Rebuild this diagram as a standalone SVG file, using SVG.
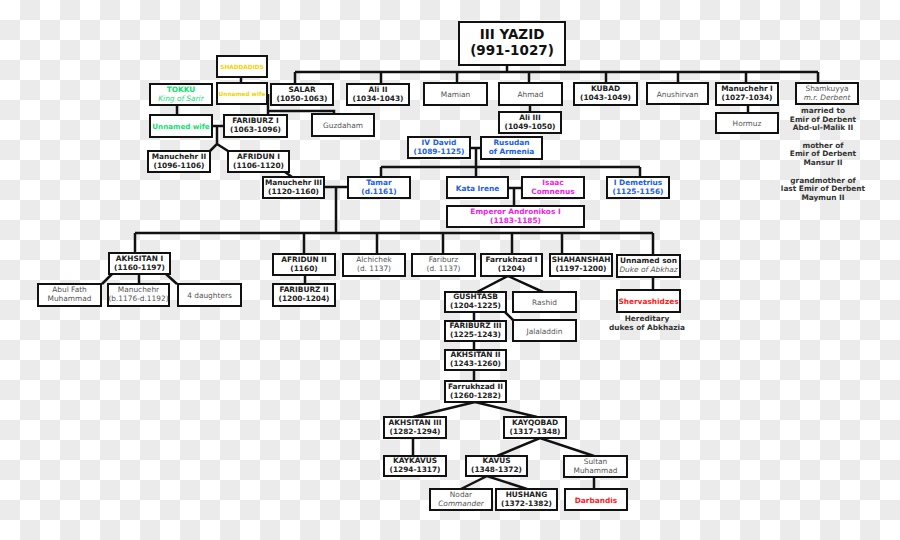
<svg xmlns="http://www.w3.org/2000/svg" width="900" height="540" viewBox="0 0 900 540">
<defs>
<pattern id="chk" x="0" y="0" width="40" height="40" patternUnits="userSpaceOnUse">
<rect x="0" y="0" width="40" height="40" fill="#ffffff"/>
<rect x="20" y="0" width="20" height="20" fill="#ebebeb"/>
<rect x="0" y="20" width="20" height="20" fill="#ebebeb"/>
</pattern>
</defs>
<style>
.n rect{fill:#fff;stroke:#111;stroke-width:2}
text{font-family:"DejaVu Sans","Liberation Sans",sans-serif;font-size:7.4px;text-anchor:middle}
.b{font-weight:bold;fill:#222}
.r{fill:#555}
.i{font-style:italic;fill:#555}
.y{fill:#f5cf00;font-weight:bold;font-size:5.8px}
.g{fill:#10e070;font-weight:bold}
.gi{fill:#10e070;font-style:italic}
.bl{fill:#2060e8;font-weight:bold}
.m{fill:#f020e8;font-weight:bold}
.rd{fill:#ff1a1a;font-weight:bold}
.note{font-weight:bold;fill:#333;font-size:7.4px}
#conn path{fill:none;stroke:#111;stroke-width:2.5}
</style>
<rect x="0" y="0" width="900" height="540" fill="url(#chk)"/>
<g id="conn">
<path d="M507,65V72M295,72H818M295,72V84M381,72V84M457,72V83M529,72V83M606,72V83M678,72V83M746,72V83M818,72V83"/>
<path d="M530,105V112M748,105V113M241,77V83M177,105V115"/>
<path d="M268,94V115M268,111H334V114"/>
<path d="M212,126H224M217,126V144L210,151M217,144L228,151"/>
<path d="M285,172L292,177"/>
<path d="M324,187H348M336,187V233M135,233H653M135,233V253M304,233V254M377,233V254M443,233V254M512,233V254M562,233V254M653,233V255"/>
<path d="M470,148H481M476,148V177M381,167H640M381,167V177M640,167V177"/>
<path d="M508,188H522M514,188V206"/>
<path d="M112,274L102,284M139,274V284M166,274L177,284"/>
<path d="M305,275V284M653,277V290"/>
<path d="M477,292L508,276L543,292M504,311L514,321"/>
<path d="M474,312V321M474,341V350M474,370V381"/>
<path d="M413,417L475,402L537,417M413,438V456"/>
<path d="M497,456L540,438L594,456M461,489L487,476L527,489M594,477V489"/>
</g>

<g id="yazid" class="n"><rect x="459" y="22" width="106" height="43"/><text class="b" x="512" y="39" style="font-size:13.5px;fill:#111">III YAZID</text><text class="b" x="512" y="55" style="font-size:13.5px;fill:#111">(991-1027)</text></g>
<g id="salar" class="n"><rect x="271" y="84" width="62" height="21"/><text class="b" x="302" y="91.5">SALAR</text><text class="b" x="302" y="100.5">(1050-1063)</text></g>
<g id="ali2" class="n"><rect x="347" y="84" width="62" height="21"/><text class="b" x="378" y="91.5">Ali II</text><text class="b" x="378" y="100.5">(1034-1043)</text></g>
<g id="mamian" class="n"><rect x="424" y="83" width="63" height="22"/><text class="r" x="455.5" y="97">Mamian</text></g>
<g id="ahmad" class="n"><rect x="499" y="83" width="63" height="22"/><text class="r" x="530.5" y="97">Ahmad</text></g>
<g id="kubad" class="n"><rect x="574" y="83" width="63" height="22"/><text class="b" x="605.5" y="91">KUBAD</text><text class="b" x="605.5" y="100">(1043-1049)</text></g>
<g id="anushirvan" class="n"><rect x="647" y="83" width="61" height="21"/><text class="r" x="677.5" y="96.5">Anushirvan</text></g>
<g id="manuchehr1" class="n"><rect x="716" y="83" width="62" height="22"/><text class="b" x="747" y="91">Manuchehr I</text><text class="b" x="747" y="100">(1027-1034)</text></g>
<g id="shamkuyya" class="n"><rect x="796" y="83" width="62" height="21"/><text class="r" x="827" y="90.5">Shamkuyya</text><text class="i" x="827" y="99.5">m.r. Derbent</text></g>
<g id="ali3" class="n"><rect x="499" y="112" width="62" height="21"/><text class="b" x="530" y="119.5">Ali III</text><text class="b" x="530" y="128.5">(1049-1050)</text></g>
<g id="hormuz" class="n"><rect x="716" y="113" width="62" height="20"/><text class="r" x="747" y="126">Hormuz</text></g>
<g id="shamkuyya-notes">
<text class="note" x="823" y="113">married to</text><text class="note" x="823" y="121.5">Emir of Derbent</text><text class="note" x="823" y="130">Abd-ul-Malik II</text>
<text class="note" x="823" y="147.5">mother of</text><text class="note" x="823" y="156">Emir of Derbent</text><text class="note" x="823" y="164.5">Mansur II</text>
<text class="note" x="823" y="182.5">grandmother of</text><text class="note" x="823" y="191">last Emir of Derbent</text><text class="note" x="823" y="199.5">Maymun II</text>
</g>
<g id="shaddadids" class="n"><rect x="217" y="56" width="50" height="21"/><text class="y" x="242" y="68.5">SHADDADIDS</text></g>
<g id="unnamedwife-y" class="n"><rect x="217" y="83" width="50" height="21"/><text class="y" x="242" y="95.5">Unnamed wife</text></g>
<g id="tokku" class="n"><rect x="150" y="84" width="62" height="21"/><text class="g" x="181" y="91.5">TOKKU</text><text class="gi" x="181" y="100.5">King of Sarir</text></g>
<g id="unnamedwife-g" class="n"><rect x="150" y="115" width="62" height="22"/><text class="g" x="181" y="128.5" style="font-size:7.1px">Unnamed wife</text></g>
<g id="fariburz1" class="n"><rect x="224" y="115" width="63" height="22"/><text class="b" x="255.5" y="123">FARIBURZ I</text><text class="b" x="255.5" y="132">(1063-1096)</text></g>
<g id="guzdaham" class="n"><rect x="312" y="114" width="62" height="22"/><text class="r" x="343" y="128">Guzdaham</text></g>
<g id="manuchehr2" class="n"><rect x="148" y="151" width="62" height="21"/><text class="b" x="179" y="158.5">Manuchehr II</text><text class="b" x="179" y="167.5">(1096-1106)</text></g>
<g id="afridun1" class="n"><rect x="228" y="151" width="61" height="21"/><text class="b" x="258.5" y="158.5">AFRIDUN I</text><text class="b" x="258.5" y="167.5">(1106-1120)</text></g>
<g id="manuchehr3" class="n"><rect x="263" y="177" width="61" height="21"/><text class="b" x="293.5" y="184.5">Manuchehr III</text><text class="b" x="293.5" y="193.5">(1120-1160)</text></g>
<g id="tamar" class="n"><rect x="348" y="177" width="62" height="21"/><text class="bl" x="379" y="184.5">Tamar</text><text class="bl" x="379" y="193.5">(d.1161)</text></g>
<g id="david4" class="n"><rect x="408" y="137" width="62" height="21"/><text class="bl" x="439" y="144.5">IV David</text><text class="bl" x="439" y="153.5">(1089-1125)</text></g>
<g id="rusudan" class="n"><rect x="481" y="137" width="61" height="22"/><text class="bl" x="511.5" y="145">Rusudan</text><text class="bl" x="511.5" y="154">of Armenia</text></g>
<g id="kata-irene" class="n"><rect x="447" y="177" width="61" height="21"/><text class="bl" x="477.5" y="190.5">Kata Irene</text></g>
<g id="isaac" class="n"><rect x="522" y="177" width="62" height="21"/><text class="m" x="553" y="184.5">Isaac</text><text class="m" x="553" y="193.5">Comnenus</text></g>
<g id="andronikos" class="n"><rect x="447" y="206" width="137" height="21"/><text class="m" x="515.5" y="213.5">Emperor Andronikos I</text><text class="m" x="515.5" y="222.5">(1183-1185)</text></g>
<g id="demetrius" class="n"><rect x="607" y="177" width="62" height="21"/><text class="bl" x="638" y="184.5">I Demetrius</text><text class="bl" x="638" y="193.5">(1125-1156)</text></g>
<g id="akhsitan1" class="n"><rect x="109" y="253" width="61" height="21"/><text class="b" x="139.5" y="260.5">AKHSITAN I</text><text class="b" x="139.5" y="269.5">(1160-1197)</text></g>
<g id="afridun2" class="n"><rect x="273" y="254" width="62" height="21"/><text class="b" x="304" y="261.5">AFRIDUN II</text><text class="b" x="304" y="270.5">(1160)</text></g>
<g id="alchichek" class="n"><rect x="343" y="254" width="62" height="22"/><text class="r" x="374" y="262">Alchichek</text><text class="r" x="374" y="271">(d. 1137)</text></g>
<g id="fariburz" class="n"><rect x="412" y="254" width="63" height="22"/><text class="r" x="443.5" y="262">Fariburz</text><text class="r" x="443.5" y="271">(d. 1137)</text></g>
<g id="farrukhzad1" class="n"><rect x="481" y="254" width="61" height="22"/><text class="b" x="511.5" y="262">Farrukhzad I</text><text class="b" x="511.5" y="271">(1204)</text></g>
<g id="shahanshah" class="n"><rect x="550" y="254" width="62" height="22"/><text class="b" x="581" y="262">SHAHANSHAH</text><text class="b" x="581" y="271">(1197-1200)</text></g>
<g id="unnamed-son" class="n"><rect x="617" y="255" width="63" height="22"/><text class="b" x="648.5" y="263">Unnamed son</text><text class="i" x="648.5" y="272">Duke of Abkhaz</text></g>
<g id="shervashidzes" class="n"><rect x="617" y="290" width="63" height="22"/><text class="rd" x="648.5" y="303.5">Shervashidzes</text></g>
<g id="hereditary-note"><text class="note" x="647" y="321">Hereditary</text><text class="note" x="647" y="330">dukes of Abkhazia</text></g>
<g id="abul-fath" class="n"><rect x="38" y="284" width="63" height="22"/><text class="r" x="69.5" y="292">Abul Fath</text><text class="r" x="69.5" y="301">Muhammad</text></g>
<g id="manuchehr" class="n"><rect x="108" y="284" width="61" height="22"/><text class="r" x="138.5" y="292">Manuchehr</text><text class="r" x="138.5" y="301">(b.1176-d.1192)</text></g>
<g id="daughters" class="n"><rect x="178" y="284" width="63" height="22"/><text class="r" x="209.5" y="297.5">4 daughters</text></g>
<g id="fariburz2" class="n"><rect x="273" y="284" width="62" height="22"/><text class="b" x="304" y="292">FARIBURZ II</text><text class="b" x="304" y="301">(1200-1204)</text></g>
<g id="gushtasb" class="n"><rect x="445" y="292" width="61" height="20"/><text class="b" x="475.5" y="299">GUSHTASB</text><text class="b" x="475.5" y="308">(1204-1225)</text></g>
<g id="rashid" class="n"><rect x="513" y="292" width="63" height="20"/><text class="r" x="544.5" y="305">Rashid</text></g>
<g id="jalaladdin" class="n"><rect x="513" y="320" width="63" height="21"/><text class="r" x="544.5" y="333.5">Jalaladdin</text></g>
<g id="fariburz3" class="n"><rect x="445" y="321" width="61" height="20"/><text class="b" x="475.5" y="328">FARIBURZ III</text><text class="b" x="475.5" y="337">(1225-1243)</text></g>
<g id="akhsitan2" class="n"><rect x="445" y="350" width="61" height="20"/><text class="b" x="475.5" y="357">AKHSITAN II</text><text class="b" x="475.5" y="366">(1243-1260)</text></g>
<g id="farrukhzad2" class="n"><rect x="445" y="381" width="61" height="21"/><text class="b" x="475.5" y="388.5">Farrukhzad II</text><text class="b" x="475.5" y="397.5">(1260-1282)</text></g>
<g id="akhsitan3" class="n"><rect x="384" y="417" width="62" height="21"/><text class="b" x="415" y="424.5">AKHSITAN III</text><text class="b" x="415" y="433.5">(1282-1294)</text></g>
<g id="kayqobad" class="n"><rect x="504" y="417" width="62" height="21"/><text class="b" x="535" y="424.5">KAYQOBAD</text><text class="b" x="535" y="433.5">(1317-1348)</text></g>
<g id="kaykavus" class="n"><rect x="384" y="456" width="62" height="20"/><text class="b" x="415" y="463">KAYKAVUS</text><text class="b" x="415" y="472">(1294-1317)</text></g>
<g id="kavus" class="n"><rect x="466" y="456" width="61" height="20"/><text class="b" x="496.5" y="463">KAVUS</text><text class="b" x="496.5" y="472">(1348-1372)</text></g>
<g id="sultan-muhammad" class="n"><rect x="564" y="456" width="63" height="21"/><text class="r" x="595.5" y="463.5">Sultan</text><text class="r" x="595.5" y="472.5">Muhammad</text></g>
<g id="nodar" class="n"><rect x="430" y="489" width="62" height="21"/><text class="r" x="461" y="496.5">Nodar</text><text class="i" x="461" y="505.5">Commander</text></g>
<g id="hushang" class="n"><rect x="496" y="489" width="61" height="21"/><text class="b" x="526.5" y="496.5">HUSHANG</text><text class="b" x="526.5" y="505.5">(1372-1382)</text></g>
<g id="darbandis" class="n"><rect x="565" y="489" width="62" height="21"/><text class="rd" x="596" y="502.5">Darbandis</text></g>
</svg>
